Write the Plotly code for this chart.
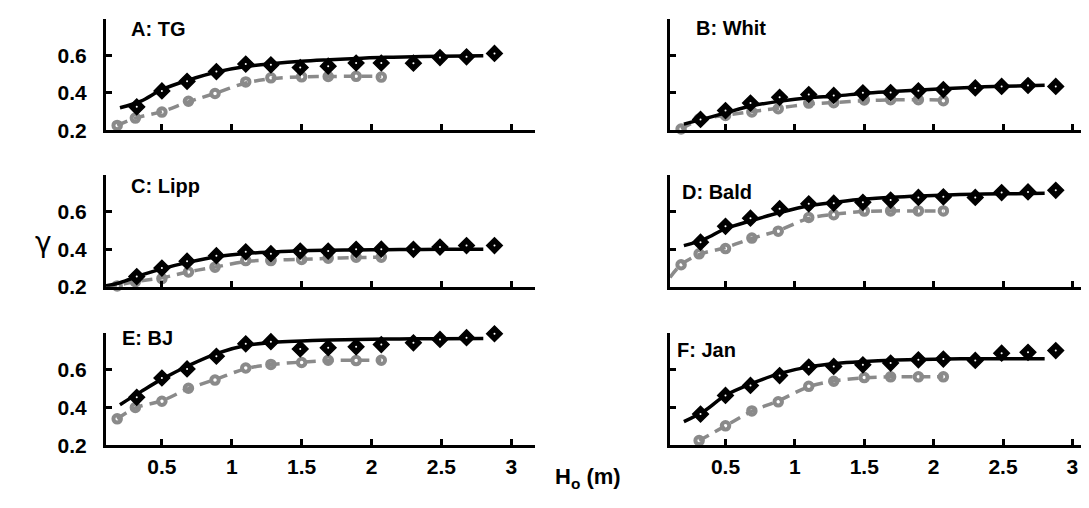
import plotly.graph_objects as go

# ---------------- data ----------------
panels = ["A: TG", "B: Whit", "C: Lipp", "D: Bald", "E: BJ", "F: Jan"]

H_dia = [0.32, 0.5, 0.68, 0.89, 1.1, 1.28, 1.49, 1.69, 1.89, 2.07, 2.3, 2.49, 2.68, 2.88]
H_circ = [0.18, 0.31, 0.5, 0.69, 0.88, 1.1, 1.28, 1.5, 1.69, 1.89, 2.07]
H_fit = [0.1, 0.2, 0.35, 0.5, 0.7, 0.9, 1.1, 1.3, 1.5, 1.7, 1.9, 2.1, 2.3, 2.5, 2.8]
H_gfit = [0.1, 0.18, 0.31, 0.5, 0.69, 0.88, 1.1, 1.28, 1.5, 1.69, 1.89, 2.07]

dia_A = [0.325, 0.41, 0.461, 0.513, 0.553, 0.549, 0.535, 0.542, 0.559, 0.559, 0.558, 0.588, 0.592, 0.61]
dia_B = [0.258, 0.305, 0.345, 0.376, 0.391, 0.386, 0.40, 0.401, 0.411, 0.417, 0.426, 0.434, 0.439, 0.434]
dia_C = [0.255, 0.30, 0.337, 0.366, 0.387, 0.377, 0.391, 0.391, 0.40, 0.401, 0.40, 0.412, 0.42, 0.42]
dia_D = [0.438, 0.523, 0.566, 0.617, 0.643, 0.646, 0.651, 0.663, 0.677, 0.68, 0.677, 0.703, 0.706, 0.715]
dia_E = [0.454, 0.556, 0.604, 0.671, 0.737, 0.748, 0.71, 0.716, 0.721, 0.733, 0.742, 0.76, 0.769, 0.79]
dia_F = [0.365, 0.464, 0.517, 0.569, 0.614, 0.617, 0.626, 0.635, 0.652, 0.656, 0.649, 0.687, 0.692, 0.701]

circ_A = [0.226, 0.265, 0.297, 0.355, 0.396, 0.458, 0.48, 0.485, 0.487, 0.488, 0.484]
circ_B = [0.207, 0.26, 0.279, 0.298, 0.315, 0.345, 0.347, 0.362, 0.363, 0.363, 0.358]
circ_C = [0.205, 0.228, 0.244, 0.279, 0.305, 0.34, 0.34, 0.346, 0.353, 0.358, 0.358]
circ_D = [0.318, 0.376, 0.404, 0.46, 0.497, 0.57, 0.585, 0.604, 0.605, 0.605, 0.605]
circ_E = [0.34, 0.40, 0.433, 0.502, 0.545, 0.609, 0.628, 0.638, 0.65, 0.648, 0.65]
circ_F = [None, 0.225, 0.303, 0.382, 0.43, 0.512, 0.539, 0.558, 0.562, 0.562, 0.562]

fit_A = [None, 0.32, 0.356, 0.417, 0.47, 0.512, 0.54, 0.556, 0.568, 0.576, 0.583, 0.589, 0.592, 0.595, 0.597]
fit_B = [None, 0.233, 0.262, 0.293, 0.332, 0.356, 0.373, 0.383, 0.398, 0.407, 0.415, 0.423, 0.43, 0.435, 0.44]
fit_C = [0.205, 0.222, 0.262, 0.296, 0.333, 0.362, 0.378, 0.386, 0.392, 0.395, 0.397, 0.398, 0.399, 0.40, 0.40]
fit_D = [None, 0.42, 0.455, 0.51, 0.556, 0.598, 0.633, 0.652, 0.668, 0.678, 0.685, 0.69, 0.694, 0.696, 0.699]
fit_E = [None, 0.415, 0.484, 0.55, 0.625, 0.688, 0.728, 0.745, 0.752, 0.757, 0.76, 0.762, 0.763, 0.764, 0.765]
fit_F = [None, 0.325, 0.383, 0.465, 0.53, 0.582, 0.615, 0.633, 0.643, 0.65, 0.654, 0.657, 0.658, 0.658, 0.658]

gfit_A = [None, 0.226, 0.265, 0.30, 0.352, 0.397, 0.452, 0.475, 0.485, 0.487, 0.488, 0.488]
gfit_B = [None, 0.207, 0.255, 0.28, 0.30, 0.318, 0.34, 0.348, 0.358, 0.362, 0.363, 0.362]
gfit_C = [0.2, 0.208, 0.228, 0.248, 0.28, 0.305, 0.335, 0.342, 0.347, 0.352, 0.356, 0.358]
gfit_D = [0.25, 0.318, 0.372, 0.41, 0.458, 0.5, 0.565, 0.587, 0.602, 0.605, 0.605, 0.605]
gfit_E = [None, 0.34, 0.398, 0.436, 0.50, 0.548, 0.605, 0.627, 0.64, 0.648, 0.65, 0.65]
gfit_F = [None, None, 0.225, 0.303, 0.38, 0.435, 0.51, 0.54, 0.557, 0.562, 0.562, 0.562]

x_ticks = [0.5, 1, 1.5, 2, 2.5, 3]
x_ticktext = ["0.5", "1", "1.5", "2", "2.5", "3"]
y_ticks = [0.2, 0.4, 0.6]
y_ticktext = ["0.2", "0.4", "0.6"]

dia = [dia_A, dia_B, dia_C, dia_D, dia_E, dia_F]
circ = [circ_A, circ_B, circ_C, circ_D, circ_E, circ_F]
fit = [fit_A, fit_B, fit_C, fit_D, fit_E, fit_F]
gfit = [gfit_A, gfit_B, gfit_C, gfit_D, gfit_E, gfit_F]

# ---------------- layout geometry ----------------
W, Hh = 1089, 508
GRAY = "#8a8a8a"
FONT = "Liberation Sans"

x_dom = [[98 / W, 527 / W], [662 / W, 1088 / W]]
y_dom = [[1 - 125 / Hh, 1 - 11 / Hh], [1 - 285 / Hh, 1 - 171 / Hh], [1 - 447 / Hh, 1 - 332 / Hh]]
label_pos = [(121, 21), (686, 20), (121, 182), (672, 188), (112, 337), (667, 350)]

fig = go.Figure()

for i in range(6):
    sfx = "" if i == 0 else str(i + 1)
    xa, ya = "x" + sfx, "y" + sfx
    # gray dashed fit
    fig.add_trace(go.Scatter(x=H_gfit, y=gfit[i], mode="lines", xaxis=xa, yaxis=ya,
                             line=dict(color=GRAY, width=3.5, dash="11px,7px", shape="spline"),
                             showlegend=False, hoverinfo="skip"))
    # gray circles
    fig.add_trace(go.Scatter(x=H_circ, y=circ[i], mode="markers", xaxis=xa, yaxis=ya,
                             marker=dict(symbol="circle-open", size=7.5, color=GRAY,
                                         line=dict(color=GRAY, width=4)),
                             cliponaxis=False, showlegend=False))
    # black fit
    fig.add_trace(go.Scatter(x=H_fit, y=fit[i], mode="lines", xaxis=xa, yaxis=ya,
                             line=dict(color="black", width=3.5, shape="spline"),
                             showlegend=False, hoverinfo="skip"))
    # black diamonds
    fig.add_trace(go.Scatter(x=H_dia, y=dia[i], mode="markers", xaxis=xa, yaxis=ya,
                             marker=dict(symbol="diamond", size=12, color="black",
                                         line=dict(color="black", width=1.5)),
                             cliponaxis=False, showlegend=False))
    fig.add_trace(go.Scatter(x=H_dia, y=dia[i], mode="markers", xaxis=xa, yaxis=ya,
                             marker=dict(symbol="circle", size=2, color="white",
                                         line=dict(width=0)),
                             cliponaxis=False, showlegend=False, hoverinfo="skip"))

    row, col = i // 2, i % 2
    xkey = "xaxis" + sfx
    ykey = "yaxis" + sfx
    fig.layout[xkey] = dict(domain=x_dom[col], anchor=ya, range=[0.1, 3.17],
                            showline=True, linewidth=3, linecolor="black",
                            ticks="inside", ticklen=6, tickwidth=2.5, tickcolor="black",
                            tickvals=x_ticks, ticktext=x_ticktext,
                            showticklabels=(row == 2), ticklabelstandoff=0,
                            tickfont=dict(family=FONT, size=21, color="black", weight="bold"),
                            showgrid=False, zeroline=False)
    fig.layout[ykey] = dict(domain=y_dom[row], anchor=xa, range=[0.2, 0.795],
                            showline=True, linewidth=3, linecolor="black",
                            ticks="inside", ticklen=6, tickwidth=2.5, tickcolor="black",
                            tickvals=y_ticks, ticktext=y_ticktext,
                            showticklabels=(col == 0), ticklabelstandoff=12,
                            tickfont=dict(family=FONT, size=21, color="black", weight="bold"),
                            showgrid=False, zeroline=False)
    lx, ly = label_pos[i]
    fig.add_annotation(x=lx / W, y=1 - ly / Hh, xref="paper", yref="paper",
                       xanchor="left", yanchor="middle", showarrow=False,
                       text=panels[i],
                       font=dict(family=FONT, size=20, color="black", weight="bold"))

fig.add_annotation(x=35 / W, y=1 - 240 / Hh, xref="paper", yref="paper",
                   xanchor="center", yanchor="middle", showarrow=False,
                   text="γ", font=dict(family="DejaVu Sans", size=28, color="black"))
fig.add_annotation(x=580 / W, y=1 - 480 / Hh, xref="paper", yref="paper",
                   xanchor="center", yanchor="middle", showarrow=False,
                   text="H<sub>o</sub> (m)",
                   font=dict(family=FONT, size=22, color="black", weight="bold"))

fig.update_layout(width=W, height=Hh, margin=dict(l=0, r=0, t=0, b=0),
                  paper_bgcolor="white", plot_bgcolor="white", showlegend=False)

fig.write_html("out.html")
